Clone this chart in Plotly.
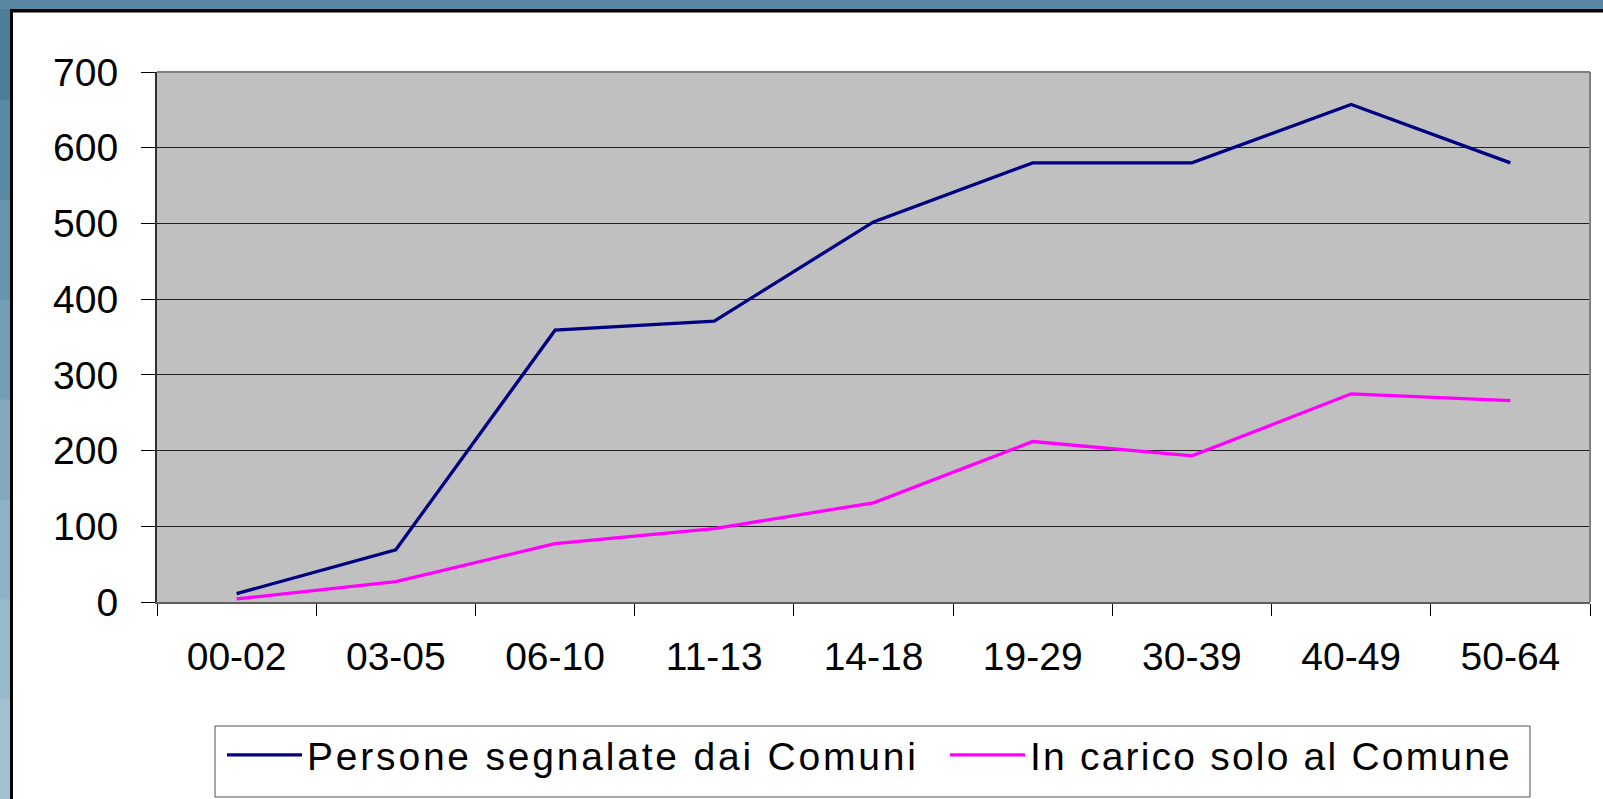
import plotly.graph_objects as go

# fasce di età e valori
fasce = ["00-02", "03-05", "06-10", "11-13", "14-18", "19-29", "30-39", "40-49", "50-64"]
segnalate = [11, 69, 359, 371, 502, 580, 580, 657, 580]
solo_comune = [4, 27, 77, 97, 131, 212, 193, 275, 266]
y_ticks = [0, 100, 200, 300, 400, 500, 600, 700]

W, H = 1603, 799
# plot area in page pixels
PL, PR, PT, PB = 157, 1590, 72, 602


def px_x(x):
    return (x - PL) / (PR - PL)


def px_y(y):
    return (PB - y) / (PB - PT)


def rect(x0, y0, x1, y1, fill, line_color=None, line_width=0, layer="below"):
    return dict(
        type="rect", xref="paper", yref="paper",
        x0=px_x(x0), x1=px_x(x1), y0=px_y(y0), y1=px_y(y1),
        fillcolor=fill, line=dict(color=line_color or fill, width=line_width),
        layer=layer,
    )


shapes = []
# blue slide background on the left and top edges
left_cols = ["#4d7d98", "#5a89a3", "#6795ad", "#739fb6", "#80a9be", "#8cb2c5", "#97bacb", "#a2c1d0"]
seg = H / len(left_cols)
for i, c in enumerate(left_cols):
    shapes.append(rect(0, i * seg, 10, (i + 1) * seg + 1, c))
shapes.append(rect(0, 0, W, 9, "#5a87a1"))
# black frame
shapes.append(rect(10, 9, 13, H, "#000000"))
shapes.append(rect(10, 9, W, 12.5, "#000000"))
# plot area gray frame (top and right)
shapes.append(dict(type="line", xref="paper", yref="paper", x0=0, x1=1, y0=1, y1=1,
                   line=dict(color="#808080", width=2), layer="above"))
shapes.append(dict(type="line", xref="paper", yref="paper", x0=1, x1=1, y0=0, y1=1,
                   line=dict(color="#808080", width=2), layer="above"))
# legend box
shapes.append(rect(215, 726, 1530, 797, "rgba(0,0,0,0)", "#505050", 1))

fig = go.Figure()
fig.add_trace(go.Scatter(
    x=fasce, y=segnalate, mode="lines", line=dict(color="#000080", width=3.3),
    name='<span style="letter-spacing:2.8px">Persone segnalate dai Comuni</span>',
    legend="legend",
))
fig.add_trace(go.Scatter(
    x=fasce, y=solo_comune, mode="lines", line=dict(color="#FF00FF", width=3.3),
    name='<span style="letter-spacing:2.2px">In carico solo al Comune</span>',
    legend="legend2",
))

leg_common = dict(
    orientation="h", yanchor="middle", xanchor="left",
    bgcolor="rgba(0,0,0,0)", borderwidth=0,
    font=dict(size=39), itemwidth=75,
)

fig.update_layout(
    width=W, height=H,
    margin=dict(l=PL, r=W - PR, t=PT, b=H - PB, pad=0, autoexpand=False),
    paper_bgcolor="#FFFFFF",
    plot_bgcolor="#C0C0C0",
    font=dict(family="Liberation Sans, Arial, sans-serif", size=39, color="#000000"),
    shapes=shapes,
    showlegend=True,
    legend=dict(x=px_x(222), y=px_y(755), **leg_common),
    legend2=dict(x=px_x(945), y=px_y(755), **leg_common),
)
fig.update_xaxes(
    type="category", range=[-0.5, 8.5], tickson="boundaries",
    ticks="outside", ticklen=12, tickcolor="#000000", tickwidth=1,
    showline=True, linecolor="#606060", linewidth=2,
    showgrid=False, ticklabelstandoff=19,
)
fig.update_yaxes(
    range=[0, 700], tickvals=y_ticks, ticks="outside", ticklen=14,
    tickcolor="#000000", tickwidth=1, showline=True, linecolor="#303030", linewidth=2,
    showgrid=True, gridcolor="#202020", gridwidth=1, zeroline=False,
    ticklabelstandoff=15,
)

# the page body has a default 8px margin: remove it so the figure fills the window
fig.write_html(
    "out.html",
    config={"displayModeBar": False},
    post_script="document.body.style.margin = '0';",
)
